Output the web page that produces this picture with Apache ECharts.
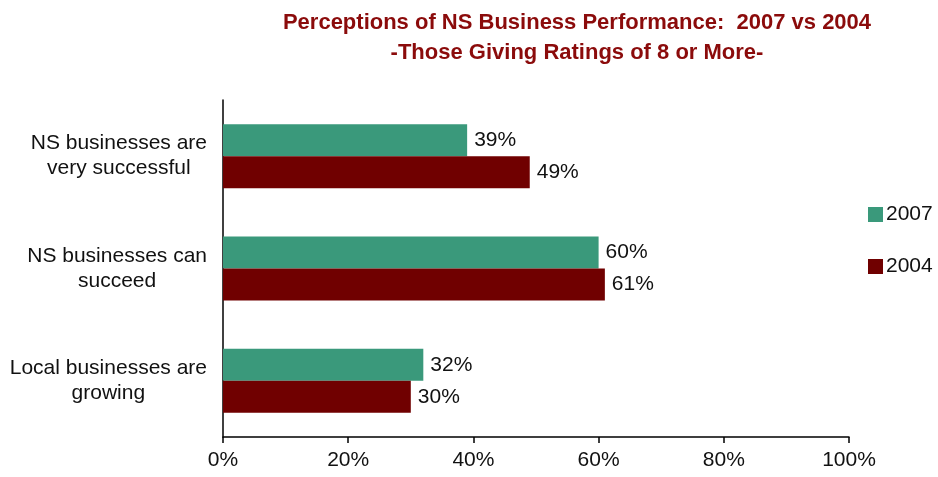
<!DOCTYPE html>
<html>
<head>
<meta charset="utf-8">
<script src="https://cdn.jsdelivr.net/npm/echarts@6/dist/echarts.min.js"></script>
<style>
  html, body { margin: 0; padding: 0; background: #fff; }
  #chart { width: 938px; height: 477px; }
</style>
</head>
<body>
<div id="chart"></div>
<script>
// Categories listed bottom to top (category axis runs upward)
const categories = [
  'Local businesses are\ngrowing',
  'NS businesses can\nsucceed',
  'NS businesses are\nvery successful'
];
const values2007 = [32, 60, 39];
const values2004 = [30, 61, 49];
const xTicks = [0, 20, 40, 60, 80, 100];

const GREEN = '#3a997b';
const RED = '#700000';
const FONT = '"Liberation Sans", Arial, sans-serif';
const FS = 21;

const chart = echarts.init(document.getElementById('chart'), null, { renderer: 'canvas' });

const labelStyle = {
  show: true,
  position: 'right',
  distance: 7,
  color: '#111',
  fontFamily: FONT,
  fontSize: FS,
  formatter: p => p.value + '%'
};

chart.setOption({
  animation: false,
  backgroundColor: '#fff',
  title: {
    text: 'Perceptions of NS Business Performance:  2007 vs 2004\n-Those Giving Ratings of 8 or More-',
    left: 572,
    top: 3,
    textAlign: 'center',
    textStyle: {
      color: '#8b0b0b',
      fontFamily: FONT,
      fontWeight: 'bold',
      fontSize: 22,
      lineHeight: 30
    }
  },
  legend: {
    orient: 'vertical',
    left: 863,
    top: 199,
    itemWidth: 15,
    itemHeight: 15,
    itemGap: 31,
    icon: 'rect',
    data: ['2007', '2004'],
    textStyle: { color: '#111', fontFamily: FONT, fontSize: FS, padding: [0, 0, 0, -2] }
  },
  grid: { left: 223, right: 89, top: 100, bottom: 40, containLabel: false },
  xAxis: {
    type: 'value',
    min: xTicks[0],
    max: xTicks[xTicks.length - 1],
    interval: xTicks[1] - xTicks[0],
    axisLine: { show: true, lineStyle: { color: '#000', width: 1.5 } },
    axisTick: { show: true, length: 6, lineStyle: { color: '#000', width: 1.5 } },
    splitLine: { show: false },
    axisLabel: {
      color: '#111',
      fontFamily: FONT,
      fontSize: FS,
      margin: 13,
      formatter: v => v + '%'
    }
  },
  yAxis: {
    type: 'category',
    data: categories,
    axisLine: { show: true, lineStyle: { color: '#000', width: 1.5 } },
    axisTick: { show: false },
    axisLabel: {
      color: '#111',
      fontFamily: FONT,
      fontSize: FS,
      margin: 16,
      formatter: v => v.split('\n').map(s => '{c|' + s + '}').join('\n'),
      rich: {
        c: { align: 'center', fontFamily: FONT, fontSize: FS, color: '#111', lineHeight: 25 }
      }
    }
  },
  series: [
    {
      name: '2007',
      type: 'bar',
      data: values2007,
      barWidth: 32,
      barGap: '0%',
      itemStyle: { color: GREEN },
      label: labelStyle
    },
    {
      name: '2004',
      type: 'bar',
      data: values2004,
      barWidth: 32,
      barGap: '0%',
      itemStyle: { color: RED },
      label: labelStyle
    }
  ]
});
</script>
</body>
</html>
